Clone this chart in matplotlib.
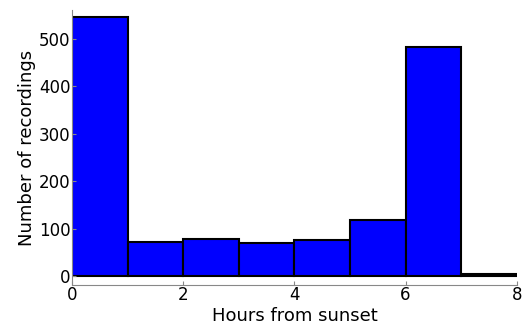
import numpy as np
import matplotlib
matplotlib.use('Agg')
import matplotlib.pyplot as plt

# histogram of recordings per hour after sunset
bin_edges = [0, 1, 2, 3, 4, 5, 6, 7, 8]
counts = [547, 72, 78, 70, 76, 118, 484, 4]

fig = plt.figure(figsize=(5.29, 3.25), dpi=100)
ax = fig.add_axes([0.136, 0.123, 0.841, 0.846])

ax.hist(bin_edges[:-1], bins=bin_edges, weights=counts,
        color='blue', edgecolor='black', linewidth=1.5)

ax.set_xlim(0, 8)
ax.set_ylim(-19, 561)
ax.set_xticks([0, 2, 4, 6, 8])
ax.set_yticks([0, 100, 200, 300, 400, 500])

for s in ['top', 'right']:
    ax.spines[s].set_visible(False)
for s in ['left', 'bottom']:
    ax.spines[s].set_color('#888888')
    ax.spines[s].set_linewidth(0.8)
ax.tick_params(direction='in', length=3, color='#888888', labelsize=12, pad=1)

ax.set_xlabel('Hours from sunset', fontsize=13, labelpad=2)
ax.set_ylabel('Number of recordings', fontsize=13, labelpad=2)

fig.savefig('out.png', dpi=100)
